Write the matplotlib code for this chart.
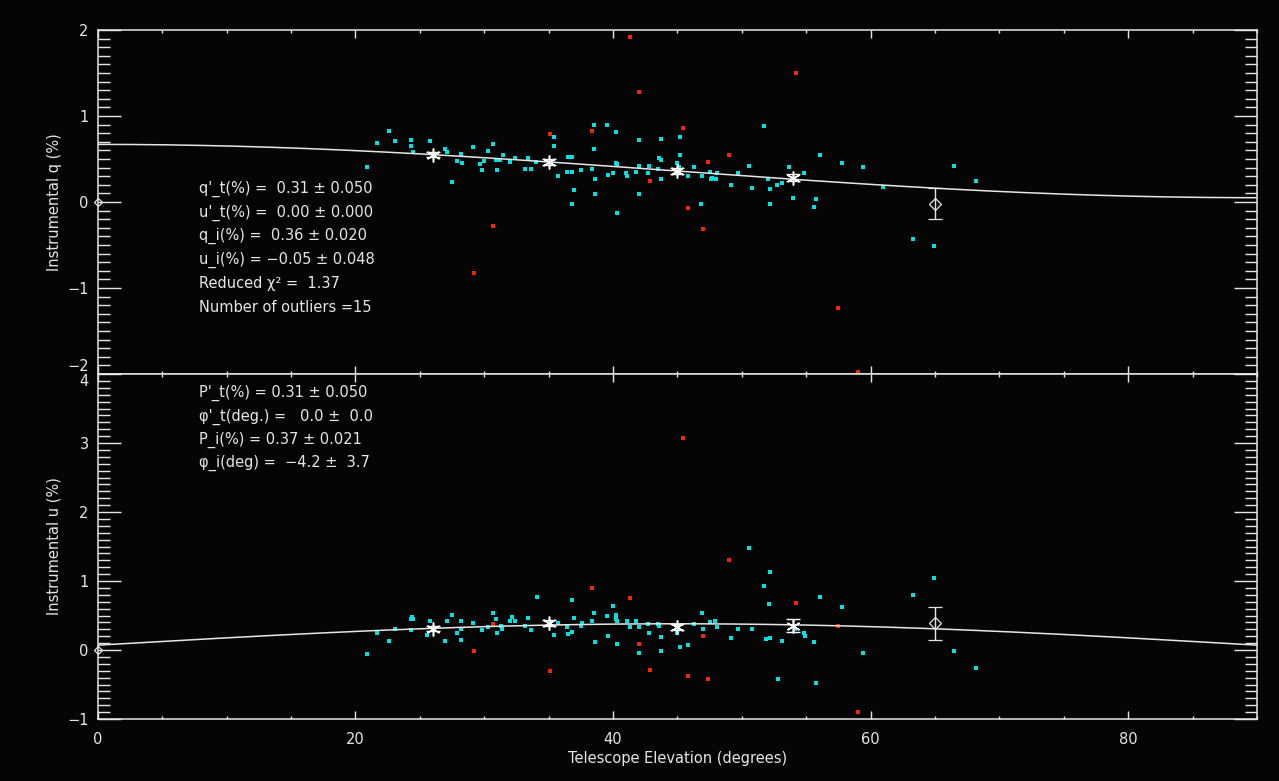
import numpy as np
import matplotlib
matplotlib.use('Agg')
import matplotlib.pyplot as plt
from matplotlib.ticker import MultipleLocator

# individual measurements (cyan), top panel: elevation vs instrumental q
q_x = [21.7, 22.6, 23.1, 24.3, 24.3, 24.5, 25.8, 20.9, 27.0, 27.1, 27.5, 27.9, 28.2, 28.3,
       29.1, 29.7, 29.8, 30.0, 30.3, 30.7, 30.9, 31.0, 31.2, 31.5, 32.0, 32.4, 33.2, 33.4,
       33.6, 34.0, 35.4, 35.4, 35.7, 36.4, 36.5, 36.8, 36.8, 37.0, 36.8, 37.5, 38.4, 38.5,
       38.5, 38.6, 38.6, 39.5, 39.6, 40.0, 40.2, 40.2, 40.3, 40.3, 41.0, 41.1, 41.8, 42.0,
       42.0, 42.0, 42.7, 42.8, 43.5, 43.6, 43.7, 43.7, 43.7, 45.0, 45.1, 45.2, 45.2, 45.8,
       46.3, 46.8, 46.9, 47.5, 47.6, 47.7, 48.0, 48.1, 49.2, 49.7, 50.6, 50.8, 51.7, 52.0,
       52.2, 52.2, 52.7, 53.1, 53.7, 54.0, 54.8, 55.6, 55.8, 56.1, 57.8, 59.4, 61.0, 63.3,
       64.9, 66.5, 68.2]
q_val = [0.69, 0.83, 0.71, 0.72, 0.65, 0.58, 0.71, 0.41, 0.62, 0.58, 0.23, 0.48, 0.56, 0.45,
         0.64, 0.44, 0.37, 0.48, 0.59, 0.67, 0.49, 0.37, 0.49, 0.55, 0.47, 0.51, 0.38, 0.51,
         0.38, 0.47, 0.76, 0.65, 0.30, 0.35, 0.52, 0.35, 0.52, 0.14, -0.02, 0.37, 0.38, 0.62,
         0.90, 0.27, 0.09, 0.90, 0.31, 0.34, 0.81, 0.45, 0.44, -0.13, 0.34, 0.30, 0.35, 0.42,
         0.72, 0.09, 0.34, 0.42, 0.38, 0.51, 0.73, 0.49, 0.27, 0.45, 0.41, 0.76, 0.55, 0.30,
         0.41, -0.02, 0.30, 0.35, 0.27, 0.28, 0.27, 0.34, 0.20, 0.34, 0.42, 0.16, 0.88, 0.27,
         0.15, -0.02, 0.20, 0.22, 0.41, 0.05, 0.34, -0.06, 0.03, 0.55, 0.45, 0.41, 0.17, -0.43,
         -0.51, 0.42, 0.24]

# individual measurements (cyan), bottom panel: elevation vs instrumental u
u_x = [20.9, 21.7, 22.6, 23.1, 24.3, 24.4, 24.5, 24.3, 25.6, 25.8, 27.0, 27.1, 27.5, 27.9,
       28.2, 28.2, 28.2, 29.1, 29.8, 30.3, 30.7, 30.9, 31.0, 31.3, 31.4, 32.0, 32.2, 32.4,
       33.2, 33.4, 33.6, 34.1, 35.4, 35.7, 36.4, 36.5, 36.8, 36.8, 37.0, 37.5, 37.6, 38.5,
       38.4, 38.6, 39.5, 39.6, 40.0, 40.2, 40.2, 40.3, 40.3, 41.1, 41.3, 41.8, 42.0, 42.0,
       42.7, 42.8, 43.5, 43.6, 43.7, 43.7, 45.0, 45.2, 45.8, 46.3, 46.9, 47.0, 47.5, 47.9,
       48.1, 49.2, 49.7, 50.6, 50.8, 51.7, 51.9, 52.1, 52.2, 52.2, 52.8, 53.1, 54.1, 54.8,
       54.9, 55.6, 55.8, 56.1, 57.8, 59.4, 63.3, 64.9, 66.5, 68.2]
u_val = [-0.06, 0.25, 0.13, 0.30, 0.29, 0.48, 0.45, 0.45, 0.22, 0.42, 0.13, 0.42, 0.51, 0.25,
         0.42, 0.14, 0.30, 0.39, 0.29, 0.33, 0.54, 0.45, 0.25, 0.35, 0.30, 0.42, 0.48, 0.42,
         0.35, 0.46, 0.29, 0.77, 0.22, 0.39, 0.33, 0.23, 0.72, 0.26, 0.46, 0.35, 0.39, 0.54,
         0.42, 0.12, 0.49, 0.20, 0.64, 0.51, 0.45, 0.09, 0.42, 0.42, 0.33, 0.42, 0.33, -0.04,
         0.38, 0.25, 0.38, 0.35, 0.19, -0.01, 0.25, 0.04, 0.07, 0.38, 0.54, 0.30, 0.41, 0.42,
         0.33, 0.17, 0.30, 1.48, 0.30, 0.93, 0.16, 0.67, 1.13, 0.17, -0.42, 0.13, 0.30, 0.25,
         0.20, 0.12, -0.48, 0.77, 0.62, -0.04, 0.80, 1.04, -0.01, -0.26]

# rejected outliers (red), same observations in both panels
out_x = [41.3, 54.2, 42.0, 35.1, 38.4, 45.4, 49.0, 47.4, 42.9, 45.8, 47.0, 30.7, 29.2, 57.5, 59.0]
out_q = [1.92, 1.50, 1.28, 0.79, 0.83, 0.86, 0.55, 0.47, 0.24, -0.07, -0.31, -0.28, -0.83, -1.23, -1.98]
out_u = [0.75, 0.68, 0.09, -0.30, 0.90, 3.07, 1.30, -0.42, -0.29, -0.38, 0.20, 0.38, -0.01, 0.35, -0.90]

# binned means
bin_x = [26, 35, 45, 54]
bin_q = [0.55, 0.465, 0.36, 0.28]
bin_qerr = [0.03, 0.03, 0.03, 0.04]
bin_u = [0.31, 0.39, 0.33, 0.35]
bin_uerr = [0.04, 0.04, 0.04, 0.095]

# last bin (few points), drawn as a diamond
last_x = [65]
last_q = [-0.02]
last_qerr = [0.18]
last_u = [0.39]
last_uerr = [0.24]

# fitted model parameters
q_off = 0.36
u_off = 0.07
p_t = 0.31

top_lines = ["q'_t(%) =  0.31 ± 0.050",
             "u'_t(%) =  0.00 ± 0.000",
             "q_i(%) =  0.36 ± 0.020",
             "u_i(%) = \u22120.05 ± 0.048",
             "Reduced χ² =  1.37",
             "Number of outliers =15"]
bot_lines = ["P'_t(%) = 0.31 ± 0.050",
             "φ'_t(deg.) =   0.0 ±  0.0",
             "P_i(%) = 0.37 ± 0.021",
             "φ_i(deg) =  \u22124.2 ±  3.7"]

bg = '#050505'
fg = '#e6e6e6'
cyan = '#00e0e0'
red = '#f02800'

plt.rcParams['axes.unicode_minus'] = True
fig = plt.figure(figsize=(12.79, 7.81), dpi=100, facecolor=bg)
W, H = 1279, 781
left = 97.7 / W
width = (1257 - 97.7) / W
ax1 = fig.add_axes([left, 1 - 374 / H, width, (374 - 30) / H])
ax2 = fig.add_axes([left, 1 - 719 / H, width, (719 - 374) / H])

elev = np.linspace(0, 90, 400)
q_fit = q_off + p_t * np.cos(np.radians(2 * elev))
u_fit = u_off + p_t * np.sin(np.radians(2 * elev))

for ax in (ax1, ax2):
    ax.set_facecolor(bg)
    ax.set_xlim(0, 90)
    for s in ax.spines.values():
        s.set_color(fg)
        s.set_linewidth(1.1)
    ax.xaxis.set_major_locator(MultipleLocator(20))
    ax.xaxis.set_minor_locator(MultipleLocator(5))
    ax.yaxis.set_major_locator(MultipleLocator(1))
    ax.yaxis.set_minor_locator(MultipleLocator(0.1))
    ax.tick_params(which='both', direction='in', top=True, right=True, colors=fg, width=1.0)
    ax.tick_params(axis='y', which='major', length=16.5, pad=6.5, labelsize=10.5)
    ax.tick_params(axis='y', which='minor', length=8.5)
    ax.tick_params(axis='x', which='major', length=6, pad=9, labelsize=10.5)
    ax.tick_params(axis='x', which='minor', length=2.5)
    ax.plot([0], [0], marker='D', ms=4.5, mfc='none', mec=fg, mew=0.9, clip_on=False, zorder=5)

# top panel
ax1.set_ylim(-2, 2)
ax1.tick_params(axis='x', labelbottom=False)
ax1.plot(elev, q_fit, color=fg, lw=1.1, zorder=3)
ax1.plot(q_x, q_val, ls='none', marker='s', ms=2.6, mew=0, color=cyan, zorder=2)
ax1.plot(out_x, out_q, ls='none', marker='s', ms=2.5, mew=0, color=red, zorder=2)
ax1.errorbar(bin_x, bin_q, yerr=bin_qerr, fmt='none', ecolor='white', elinewidth=1, capsize=5, zorder=4)
ax1.plot(bin_x, bin_q, ls='none', marker=(6, 2, 0), ms=10, mew=1.1, color='white', zorder=4)
ax1.errorbar(last_x, last_q, yerr=last_qerr, fmt='D', ms=6, mfc='none', mec=fg, mew=0.9,
             ecolor=fg, elinewidth=1, capsize=5, zorder=4)
ax1.set_ylabel('Instrumental q (%)', color=fg, fontsize=10.5)
ax1.yaxis.set_label_coords(-0.031, 0.5)

# bottom panel
ax2.set_ylim(-1, 4)
ax2.plot(elev, u_fit, color=fg, lw=1.1, zorder=3)
ax2.plot(u_x, u_val, ls='none', marker='s', ms=2.6, mew=0, color=cyan, zorder=2)
ax2.plot(out_x, out_u, ls='none', marker='s', ms=2.5, mew=0, color=red, zorder=2)
ax2.errorbar(bin_x, bin_u, yerr=bin_uerr, fmt='none', ecolor='white', elinewidth=1, capsize=5, zorder=4)
ax2.plot(bin_x, bin_u, ls='none', marker=(6, 2, 0), ms=10, mew=1.1, color='white', zorder=4)
ax2.errorbar(last_x, last_u, yerr=last_uerr, fmt='D', ms=6, mfc='none', mec=fg, mew=0.9,
             ecolor=fg, elinewidth=1, capsize=5, zorder=4)
ax2.set_ylabel('Instrumental u (%)', color=fg, fontsize=10.5)
ax2.yaxis.set_label_coords(-0.031, 0.5)
ax2.set_xlabel('Telescope Elevation (degrees)', color=fg, fontsize=10.5)
ax2.xaxis.set_label_coords(0.5, -0.093)

# the -2 and 4 labels share the panel boundary: push them apart a little
fig.canvas.draw()
ax1.get_yticklabels()[0].set_va('bottom')
ax2.get_yticklabels()[-1].set_va('top')
for lab in ax1.get_yticklabels():
    if lab.get_text() in ('\u22122', '-2'):
        lab.set_va('bottom')
for lab in ax2.get_yticklabels():
    if lab.get_text() == '4':
        lab.set_va('top')

# fit results text
for i, t in enumerate(top_lines):
    fig.text(199 / W, 1 - (189 + 23.6 * i) / H, t, color=fg, fontsize=10.5, va='center')
for i, t in enumerate(bot_lines):
    fig.text(199 / W, 1 - (393 + 23.4 * i) / H, t, color=fg, fontsize=10.5, va='center')

fig.savefig('out.png', dpi=100, facecolor=bg)
